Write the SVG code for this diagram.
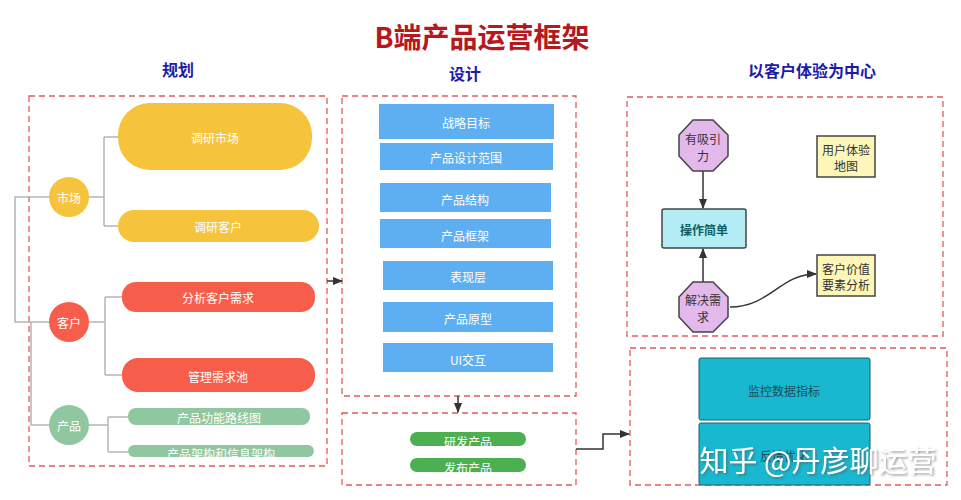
<svg xmlns="http://www.w3.org/2000/svg" width="961" height="500" viewBox="0 0 961 500">
<defs>
<style>
text{font-family:"Noto Sans CJK SC","Noto Sans",sans-serif;text-anchor:middle;dominant-baseline:central}
.title{font-size:28px;font-weight:bold;fill:#b5191d}
.head{font-size:16px;font-weight:bold;fill:#1c1ca8}
.frame{fill:none;stroke:#dd5c5c;stroke-width:1.3;stroke-dasharray:6 4}
.wt{fill:#fff;font-size:12px}
.yel{fill:#f5c43c}
.red{fill:#f65e4b}
.grn{fill:#8fc7a0}
.blue{fill:#5eaef2}
.dev{fill:#4caf50}
.tree{fill:none;stroke:#b5b5b5;stroke-width:1.5}
.conn{fill:none;stroke:#333;stroke-width:1.5}
.oct{fill:#e3b8ea;stroke:#444;stroke-width:1.5}
.note{fill:#fdf6b9;stroke:#444;stroke-width:1.5}
.dk{fill:#333;font-size:12px}
.cyan{fill:#17b8d0;stroke:#1d5e6a;stroke-width:1}
</style>
<marker id="ah" viewBox="0 0 10 10" refX="9" refY="5" markerWidth="7" markerHeight="7" orient="auto"><path d="M0,1 L10,5 L0,9 z" fill="#333"/></marker>
<filter id="sh" x="-10%" y="-30%" width="120%" height="160%"><feDropShadow dx="1.5" dy="1.5" stdDeviation="0.8" flood-color="#555" flood-opacity="0.6"/></filter>
</defs>
<rect width="961" height="500" fill="#fff"/>
<text class="title" x="482" y="36">B端产品运营框架</text>
<text class="head" x="178" y="69">规划</text>
<text class="head" x="465" y="73">设计</text>
<text class="head" x="812" y="70">以客户体验为中心</text>

<g id="frames">
<rect class="frame" x="29" y="96" width="298" height="370"/>
<rect class="frame" x="342" y="96" width="234" height="300"/>
<rect class="frame" x="342" y="413" width="234" height="72"/>
<rect class="frame" x="627" y="97" width="316" height="239"/>
<rect class="frame" x="630" y="348" width="317" height="137"/>
</g>

<g id="connectors">
<path class="tree" d="M49,197 H15 V322 H49"/>
<path class="tree" d="M31,322 V425 H49"/>
<path class="tree" d="M89,197 H104 M104,137 V226 M104,137 H118 M104,226 H118"/>
<path class="tree" d="M89,322 H105 M105,297 V375 M105,297 H122 M105,375 H122"/>
<path class="tree" d="M89,425 H108 M108,417 V452 M108,417 H128 M108,452 H128"/>
<path class="conn" d="M327,281 H342" marker-end="url(#ah)"/>
<path class="conn" d="M458,396 V412" marker-end="url(#ah)"/>
<path class="conn" d="M576,449 H603 V434 H629" marker-end="url(#ah)"/>
<path class="conn" d="M703,171 V208" marker-end="url(#ah)"/>
<path class="conn" d="M703,282 V249" marker-end="url(#ah)"/>
<path class="conn" d="M730,307 C770,307 780,274 816,274" marker-end="url(#ah)"/>
</g>

<g id="n-shichang"><circle class="yel" cx="69" cy="197" r="20"/><text class="wt" x="69" y="197">市场</text></g>
<g id="n-dyshichang"><rect class="yel" x="118" y="103" width="194" height="67" rx="32"/><text class="wt" x="215" y="137">调研市场</text></g>
<g id="n-dykehu"><rect class="yel" x="118" y="210" width="201" height="32" rx="16"/><text class="wt" x="218" y="226">调研客户</text></g>

<g id="n-kehu"><circle class="red" cx="69" cy="322" r="20"/><text class="wt" x="69" y="322">客户</text></g>
<g id="n-fenxi"><rect class="red" x="122" y="282" width="193" height="30" rx="14"/><text class="wt" x="218" y="297">分析客户需求</text></g>
<g id="n-guanli"><rect class="red" x="122" y="358" width="193" height="34" rx="16"/><text class="wt" x="218" y="376">管理需求池</text></g>

<g id="n-chanpin"><circle class="grn" cx="69" cy="425" r="20"/><text class="wt" x="69" y="425">产品</text></g>
<g id="n-luxian"><rect class="grn" x="128" y="408" width="182" height="17" rx="8"/><text class="wt" x="219" y="417">产品功能路线图</text></g>
<g id="n-jiagou"><rect class="grn" x="128" y="445" width="186" height="12" rx="6"/><text class="wt" x="221" y="453">产品架构和信息架构</text></g>

<g id="n-zhanlue"><rect class="blue" x="379" y="104" width="175" height="35"/><text class="wt" x="466" y="122">战略目标</text></g>
<g id="n-fanwei"><rect class="blue" x="380" y="143" width="173" height="27"/><text class="wt" x="466" y="157">产品设计范围</text></g>
<g id="n-jiegou"><rect class="blue" x="380" y="183" width="171" height="29"/><text class="wt" x="465" y="199">产品结构</text></g>
<g id="n-kuangjia"><rect class="blue" x="380" y="219" width="171" height="29"/><text class="wt" x="465" y="235">产品框架</text></g>
<g id="n-biaoxian"><rect class="blue" x="383" y="261" width="170" height="29"/><text class="wt" x="468" y="276">表现层</text></g>
<g id="n-yuanxing"><rect class="blue" x="383" y="302" width="170" height="30"/><text class="wt" x="468" y="318">产品原型</text></g>
<g id="n-ui"><rect class="blue" x="383" y="343" width="170" height="29"/><text class="wt" x="468" y="359">UI交互</text></g>

<g id="n-yanfa"><rect class="dev" x="410" y="432" width="116" height="14" rx="7"/><text class="wt" x="468" y="441">研发产品</text></g>
<g id="n-fabu"><rect class="dev" x="410" y="458" width="116" height="14" rx="7"/><text class="wt" x="468" y="467">发布产品</text></g>

<g id="n-xiyin"><polygon class="oct" points="693,120 713,120 728,135 728,156 713,171 693,171 679,156 679,135"/><text class="dk" x="703" y="138">有吸引</text><text class="dk" x="703" y="155">力</text></g>
<g id="n-caozuo"><rect x="662" y="209" width="84" height="39" rx="2" fill="#b3ecf3" stroke="#444" stroke-width="1.5"/><text x="704" y="229" style="font-size:12px;font-weight:bold;fill:#0d5d63">操作简单</text></g>
<g id="n-jiejue"><polygon class="oct" points="693,282 713,282 728,297 728,317 713,332 693,332 679,317 679,297"/><text class="dk" x="703" y="299">解决需</text><text class="dk" x="703" y="316">求</text></g>
<g id="n-ditu"><rect class="note" x="817" y="136" width="58" height="41"/><text class="dk" x="846" y="149">用户体验</text><text class="dk" x="846" y="165">地图</text></g>
<g id="n-jiazhi"><rect class="note" x="817" y="255" width="58" height="41"/><text class="dk" x="846" y="268">客户价值</text><text class="dk" x="846" y="284">要素分析</text></g>

<g id="n-jiankong"><rect class="cyan" x="699" y="358" width="171" height="62" rx="2"/><text x="784" y="390" style="font-size:12px;fill:#1d4d5a">监控数据指标</text></g>
<g id="n-fankui"><rect class="cyan" x="699" y="423" width="171" height="62" rx="2"/><text x="784" y="455" style="font-size:12px;fill:#1d4d5a">反馈优化</text></g>

<g id="watermark">
<text x="818" y="459" filter="url(#sh)" style="font-size:29px;fill:#fff">知乎 @丹彦聊运营</text>
</g>
</svg>
